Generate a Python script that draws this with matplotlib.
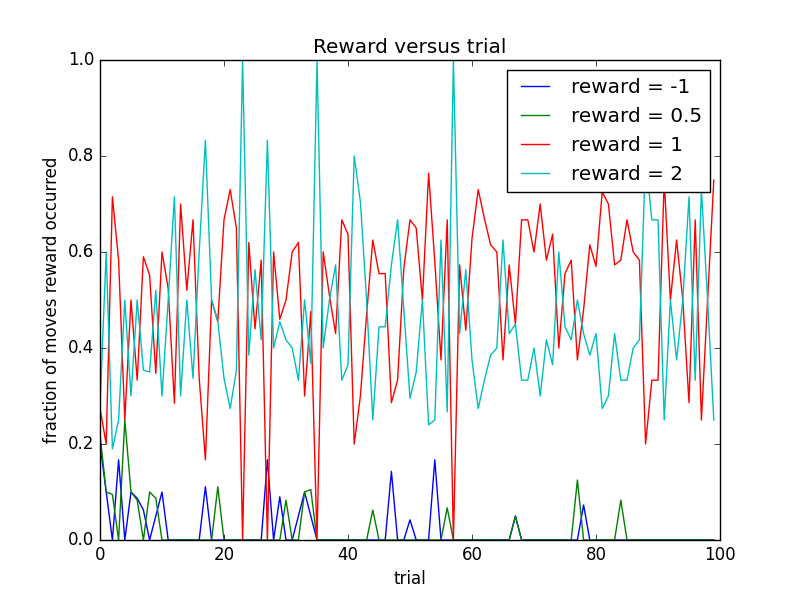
import matplotlib
matplotlib.use("Agg")
import matplotlib.pyplot as plt
import numpy as np

plt.style.use('classic')

trials = np.arange(100)

blue = [0.2,0.1,0,0.167,0,0.1,0.087,0.0625,0,0.05,
        0.1,0,0,0,0,0,0,0.111,0,0,
        0,0,0,0,0,0,0,0.167,0,0.09,
        0,0,0.05,0.1,0.05,0,0,0,0,0,
        0,0,0,0,0,0,0,0.143,0,0,
        0.042,0,0,0,0.167,0,0,0,0,0,
        0,0,0,0,0,0,0,0.05,0,0,
        0,0,0,0,0,0,0,0,0.073,0,
        0,0,0,0,0,0,0,0,0,0,
        0,0,0,0,0,0,0,0,0,0]
green = [0.22,0.1,0.095,0,0.25,0.1,0.083,0,0.1,0.087,
         0,0,0,0,0,0,0,0,0,0.111,
         0,0,0,0,0,0,0,0,0,0,
         0.083,0,0,0.1,0.105,0,0,0,0,0,
         0,0,0,0,0.0625,0,0,0,0,0,
         0,0,0,0,0,0,0.067,0,0,0,
         0,0,0,0,0,0,0,0.05,0,0,
         0,0,0,0,0,0,0,0.125,0,0,
         0,0,0,0,0.083,0,0,0,0,0,
         0,0,0,0,0,0,0,0,0,0]
red = [0.274,0.2,0.715,0.583,0.25,0.5,0.333,0.59,0.552,0.347,
       0.6,0.524,0.285,0.7,0.52,0.667,0.337,0.167,0.5,0.455,
       0.667,0.73,0.65,0,0.62,0.44,0.583,0,0.6,0.46,
       0.5,0.6,0.62,0.3,0.476,0,0.6,0.51,0.43,0.667,
       0.637,0.2,0.3,0.47,0.625,0.555,0.555,0.286,0.333,0.566,
       0.667,0.65,0.5,0.764,0.58,0.375,0.667,0,0.573,0.437,
       0.628,0.73,0.67,0.615,0.6,0.375,0.573,0.45,0.667,0.667,
       0.6,0.7,0.583,0.637,0.4,0.555,0.583,0.375,0.48,0.615,
       0.57,0.725,0.7,0.573,0.583,0.667,0.6,0.583,0.2,0.333,
       0.333,0.75,0.5,0.625,0.5,0.286,0.667,0.25,0.5,0.75]
cyan = [0.28,0.6,0.19,0.25,0.5,0.3,0.5,0.354,0.35,0.52,
        0.3,0.5,0.715,0.3,0.5,0.337,0.6,0.833,0.5,0.455,
        0.337,0.274,0.354,1.0,0.385,0.563,0.417,0.833,0.4,0.455,
        0.417,0.4,0.333,0.5,0.368,1.0,0.4,0.5,0.573,0.333,
        0.365,0.8,0.705,0.5,0.25,0.444,0.444,0.573,0.667,0.48,
        0.295,0.35,0.5,0.24,0.25,0.625,0.267,1.0,0.43,0.563,
        0.375,0.274,0.333,0.385,0.4,0.625,0.43,0.45,0.333,0.333,
        0.4,0.3,0.417,0.365,0.6,0.444,0.417,0.5,0.43,0.385,
        0.43,0.274,0.3,0.43,0.333,0.333,0.4,0.417,0.8,0.667,
        0.667,0.25,0.5,0.375,0.5,0.715,0.333,0.73,0.5,0.25]

fig, ax = plt.subplots(figsize=(8, 6), dpi=100)
ax.plot(trials, blue, 'b-', label='reward = -1')
ax.plot(trials, green, 'g-', label='reward = 0.5')
ax.plot(trials, red, 'r-', label='reward = 1')
ax.plot(trials, cyan, 'c-', label='reward = 2')
ax.set_xlim(0, 100)
ax.set_ylim(0, 1.0)
ax.set_title('Reward versus trial')
ax.set_xlabel('trial')
ax.set_ylabel('fraction of moves reward occurred')
ax.legend(loc='upper right')
fig.savefig('out.png', dpi=100)
